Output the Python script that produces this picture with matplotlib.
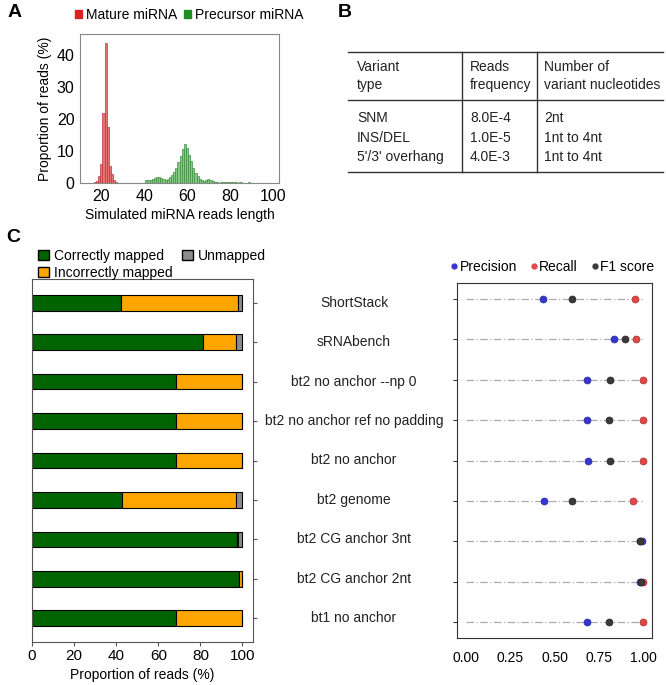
#!/usr/bin/env python3

import matplotlib
matplotlib.use("Agg")
import matplotlib.pyplot as plt
import matplotlib.patches as mpatches
import matplotlib.lines as mlines
from matplotlib.transforms import blended_transform_factory
import numpy as np

plt.rcParams['font.family'] = ['Liberation Sans', 'DejaVu Sans']
fs = 10

# ---- panel A data: read length histogram
mature_len = list(range(17, 28))
mature_pct = [0.2, 0.6, 2.2, 6.0, 21.9, 43.8, 17.5, 5.2, 2.8, 0.8, 0.2]
prec_len = list(range(41, 99))
prec_pct = [1.0, 0.8, 1.0, 1.2, 1.6, 1.8, 1.9, 1.5, 1.3, 1.0, 1.3, 1.8, 2.4, 3.4,
            4.6, 6.5, 8.5, 10.5, 12.2, 11.0, 8.8, 6.8, 4.8, 3.2, 2.2, 1.4, 0.9,
            0.6, 0.9, 1.1, 0.9, 0.5, 0.4, 0.2, 0.15, 0.2, 0.3, 0.25, 0.3, 0.35,
            0.4, 0.3, 0.2, 0.15, 0.2, 0.15, 0.1, 0.15, 0.2, 0.1, 0.08, 0.05,
            0.08, 0.05, 0.05, 0.08, 0.05, 0.05]

# ---- panel B table
tab_header = ["Variant\ntype", "Reads\nfrequency", "Number of\nvariant nucleotides"]
tab_rows = [["SNM", "8.0E-4", "2nt"],
            ["INS/DEL", "1.0E-5", "1nt to 4nt"],
            ["5'/3' overhang", "4.0E-3", "1nt to 4nt"]]

# ---- panel C data
tools = ["ShortStack", "sRNAbench", "bt2 no anchor --np 0",
         "bt2 no anchor ref no padding", "bt2 no anchor", "bt2 genome",
         "bt2 CG anchor 3nt", "bt2 CG anchor 2nt", "bt1 no anchor"]
correct = [42.5, 81.3, 68.3, 68.3, 68.3, 42.7, 97.5, 98.3, 68.3]
incorrect = [55.3, 15.4, 31.7, 31.7, 31.7, 54.4, 0.3, 1.7, 31.7]
unmapped = [2.2, 3.3, 0.0, 0.0, 0.0, 2.9, 2.2, 0.0, 0.0]
precision = [0.434, 0.838, 0.685, 0.685, 0.687, 0.438, 0.996, 0.981, 0.683]
recall = [0.955, 0.962, 1.0, 1.0, 1.0, 0.942, 0.981, 1.0, 1.0]
f1 = [0.596, 0.896, 0.811, 0.809, 0.813, 0.596, 0.985, 0.99, 0.809]

W, H = 666, 685
fig = plt.figure(figsize=(W/100, H/100), dpi=100)

def rect(l, t, r, b):
  return [l/W, 1 - b/H, (r - l)/W, (b - t)/H]

# ================= A
axA = fig.add_axes(rect(80, 34, 279, 183))
axA.bar(mature_len, mature_pct, width=1.0, color='#e57373', edgecolor='#b83a3a', lw=0.5)
axA.bar(prec_len, prec_pct, width=1.0, color='#86c986', edgecolor='#3f8f3f', lw=0.5)
axA.set_xlim(10, 103)
axA.set_ylim(0, 46.5)
axA.set_xticks([20, 40, 60, 80, 100])
axA.set_yticks([0, 10, 20, 30, 40])
axA.tick_params(labelsize=11.5, length=0, pad=4)
for s in axA.spines.values():
  s.set_color('#888888')
  s.set_linewidth(0.8)
axA.set_xlabel("Simulated miRNA reads length", fontsize=fs, labelpad=3)
axA.set_ylabel("Proportion of reads (%)", fontsize=fs, labelpad=3)
hA = [mpatches.Patch(color='#e02020', label='Mature miRNA'),
      mpatches.Patch(color='#1f8f1f', label='Precursor miRNA')]
fig.legend(handles=hA, loc='center left', bbox_to_anchor=(68/W, 1 - 15/H), ncol=2,
           frameon=False, fontsize=fs, handlelength=0.5, handleheight=0.5,
           handletextpad=0.3, columnspacing=0.5, borderpad=0)

# ================= B
axB = fig.add_axes([0, 0, 1, 1])
axB.set_xlim(0, W)
axB.set_ylim(H, 0)
axB.axis('off')
axB.patch.set_alpha(0)
for y in (52, 100, 172):
  axB.plot([348, 663], [y, y], color='#333333', lw=1.0)
for x in (462, 537):
  axB.plot([x, x], [52, 172], color='#333333', lw=1.0)
col_x = [357, 470, 544]
for cx, txt in zip(col_x, tab_header):
  axB.text(cx, 76, txt, fontsize=fs, ha='left', va='center', linespacing=1.3, color='#222222')
for i, row in enumerate(tab_rows):
  for cx, txt in zip(col_x, row):
    axB.text(cx, 118 + i*19.5, txt, fontsize=fs, ha='left', va='center', color='#222222')

# panel letters
axB.text(8, 12, "A", fontsize=14, fontweight='bold', va='center')
axB.text(338, 12, "B", fontsize=14, fontweight='bold', va='center')
axB.text(6, 237, "C", fontsize=14, fontweight='bold', va='center')

# ================= C left: stacked bars
axL = fig.add_axes(rect(32, 279, 253, 642))
ypos = np.arange(len(tools))
c1 = np.array(correct)
c2 = np.array(incorrect)
c3 = np.array(unmapped)
axL.barh(ypos, c1, height=0.4, color='#006400', edgecolor='black', lw=0.8)
axL.barh(ypos, c2, left=c1, height=0.4, color='#ffa500', edgecolor='black', lw=0.8)
axL.barh(ypos, c3, left=c1 + c2, height=0.4, color='#8c8c8c', edgecolor='black', lw=0.8)
axL.set_ylim(len(tools) - 0.4, -0.6)
axL.set_xlim(0, 105)
axL.set_xticks([0, 20, 40, 60, 80, 100])
axL.set_yticks(ypos)
axL.yaxis.tick_right()
axL.tick_params(axis='y', labelright=False, length=3, color='#555555')
axL.tick_params(axis='x', labelsize=11, length=3, color='#555555', pad=2)
for s in axL.spines.values():
  s.set_color('#555555')
  s.set_linewidth(0.8)
axL.set_xlabel("Proportion of reads (%)", fontsize=fs, labelpad=4)

trans = blended_transform_factory(fig.transFigure, axL.transData)
for i, t in enumerate(tools):
  axL.text(354/W, i, t, transform=trans, ha='center', va='center', fontsize=10, color='#222222')

hC = [mpatches.Patch(facecolor='#006400', edgecolor='black', label='Correctly mapped'),
      mpatches.Patch(facecolor='#ffa500', edgecolor='black', label='Incorrectly mapped'),
      mpatches.Patch(facecolor='#8c8c8c', edgecolor='black', label='Unmapped')]
fig.legend(handles=hC, loc='upper left', bbox_to_anchor=(31/W, 1 - 242/H), ncol=2,
           frameon=False, fontsize=10, handlelength=0.8, handleheight=0.8,
           handletextpad=0.35, columnspacing=0.7, borderpad=0, labelspacing=0.2)

# ================= C right: dot plot
axR = fig.add_axes(rect(457, 283, 652, 638))
for i in ypos:
  axR.plot([0, 1.0], [i, i], color='#aaaaaa', ls=(0, (6, 2, 1, 2)), lw=0.9, zorder=1)
axR.plot(precision, ypos, 'o', ms=5, color='#3535d0', mec='#2a2aa0', mew=0.5, ls='none', zorder=3)
axR.plot(recall, ypos, 'o', ms=5, color='#e04848', mec='#b03030', mew=0.5, ls='none', zorder=3)
axR.plot(f1, ypos, 'o', ms=5, color='#3a3a3a', mec='#222222', mew=0.5, ls='none', zorder=3)
axR.set_xlim(-0.05, 1.05)
axR.set_ylim(len(tools) - 0.6, -0.4)
axR.set_xticks([0, 0.25, 0.5, 0.75, 1.0])
axR.set_xticklabels(["0.00", "0.25", "0.50", "0.75", "1.00"])
axR.set_yticks(ypos)
axR.tick_params(axis='y', labelleft=False, length=3, color='#333333')
axR.tick_params(axis='x', labelsize=10, length=0, pad=9)
for s in axR.spines.values():
  s.set_color('#333333')
  s.set_linewidth(0.8)

hR = [mlines.Line2D([], [], marker='o', ls='none', ms=3.5, color='#3535d0', label='Precision'),
      mlines.Line2D([], [], marker='o', ls='none', ms=3.5, color='#e04848', label='Recall'),
      mlines.Line2D([], [], marker='o', ls='none', ms=3.5, color='#3a3a3a', label='F1 score')]
fig.legend(handles=hR, loc='center left', bbox_to_anchor=(443/W, 1 - 267/H), ncol=3,
           frameon=False, fontsize=10, handlelength=0.6, handletextpad=0.1,
           columnspacing=0.9, borderpad=0)

fig.savefig("out.png", dpi=100)
plt.close()
